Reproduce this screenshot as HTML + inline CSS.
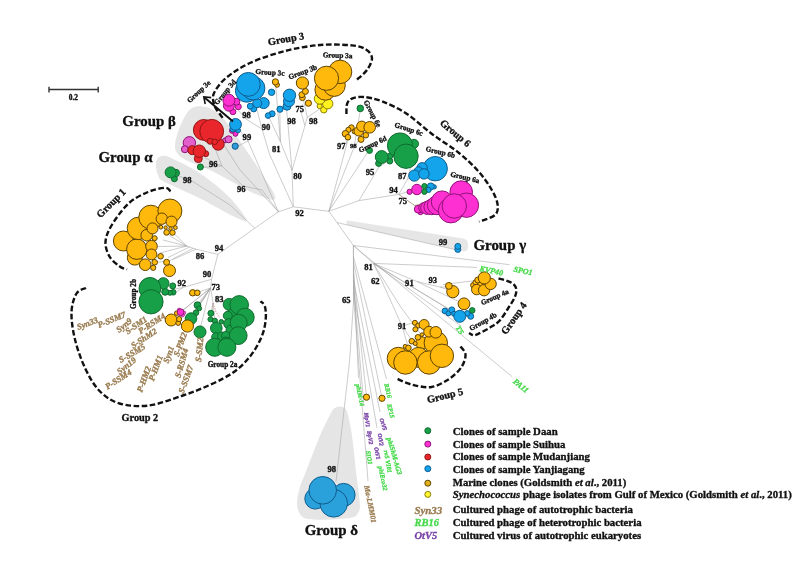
<!DOCTYPE html><html><head><meta charset="utf-8"><title>Phylogenetic tree</title>
<style>html,body{margin:0;padding:0;background:#fff}svg{display:block}text{font-family:"Liberation Serif",serif}</style></head><body>
<svg width="809" height="564" viewBox="0 0 809 564">
<rect width="809" height="564" fill="#fff"/>
<g opacity="0.999">
<path d="M275,199 C277.2,196.5 269.2,185.7 264,177 C258.8,168.3 250.0,155.8 244,147 C238.0,138.2 232.8,130.0 228,124 C223.2,118.0 219.2,113.9 215,111 C210.8,108.1 206.8,107.0 203,106.5 C199.2,106.0 195.2,106.1 192,108 C188.8,109.9 186.5,113.5 184,118 C181.5,122.5 178.5,130.2 177,135 C175.5,139.8 174.8,143.8 175,147 C175.2,150.2 176.2,151.8 178,154 C179.8,156.2 180.0,157.0 186,160 C192.0,163.0 203.2,166.7 214,172 C224.8,177.3 240.8,187.5 251,192 C261.2,196.5 272.8,201.5 275,199Z" fill="#e5e5e5" opacity="1"/>
<path d="M246.5,220 C245.7,216.7 236.5,204.3 229,196.7 C221.5,189.1 210.4,180.4 201.7,174.4 C193.0,168.4 183.0,163.8 176.8,160.7 C170.6,157.6 167.5,156.2 164.4,155.8 C161.3,155.4 159.4,156.6 158,158 C156.6,159.4 155.8,161.5 155.8,164.4 C155.8,167.3 156.8,172.7 158.2,175.6 C159.6,178.5 157.2,177.9 164.4,181.8 C171.7,185.7 190.1,193.4 201.7,199.2 C213.3,205.0 226.4,213.1 233.9,216.6 C241.4,220.1 247.3,223.3 246.5,220Z" fill="#e5e5e5" opacity="1"/>
<path d="M347.5,220.6 L463,238.4 Q468,239.3 468,244 L468,247 Q468,251.8 463,251.2 L347.5,224.8 Q344.5,222.6 347.5,220.6Z" fill="#e6e6e6"/>
<path d="M340,406.5 C341.7,406.6 343.7,407.1 345,408.5 C346.3,409.9 346.8,410.2 348,415 C349.2,419.8 350.8,427.2 352.2,437 C353.6,446.8 355.0,463.0 356.3,474 C357.6,485.0 359.4,496.7 359.8,503 C360.2,509.3 359.8,509.6 358.5,512 C357.2,514.4 356.8,516.2 352,517.5 C347.2,518.8 337.3,519.2 330,519.5 C322.7,519.8 313.0,519.9 308,519 C303.0,518.1 301.8,516.7 300,514 C298.2,511.3 297.0,507.5 297,503 C297.0,498.5 298.7,491.8 300,487 C301.3,482.2 301.8,482.3 305,474 C308.2,465.7 315.2,447.2 319.5,437 C323.8,426.8 328.4,417.8 331,413 C333.6,408.2 333.5,409.1 335,408 C336.5,406.9 338.3,406.4 340,406.5Z" fill="#e5e5e5" opacity="1"/>
<path d="M293.3,206.8 L328.8,211.3" fill="none" stroke="#a2a2a2" stroke-width="0.55"/>
<path d="M293.3,206.8 L292,170.3" fill="none" stroke="#a2a2a2" stroke-width="0.55"/>
<path d="M292,170.3 L307.3,117.4" fill="none" stroke="#a2a2a2" stroke-width="0.55"/>
<path d="M307.3,117.4 L303.5,100" fill="none" stroke="#a2a2a2" stroke-width="0.55"/>
<path d="M307.3,117.4 L321,108" fill="none" stroke="#a2a2a2" stroke-width="0.55"/>
<path d="M304.8,125.5 L301,112 L302.5,104" fill="none" stroke="#a2a2a2" stroke-width="0.55"/>
<path d="M292,170.3 L286.5,108" fill="none" stroke="#a2a2a2" stroke-width="0.55"/>
<path d="M292,170.3 L280.4,141.7 L269.5,118.5" fill="none" stroke="#a2a2a2" stroke-width="0.55"/>
<path d="M280.4,141.7 L279.8,111" fill="none" stroke="#a2a2a2" stroke-width="0.55"/>
<path d="M280.4,141.7 L275.8,87" fill="none" stroke="#a2a2a2" stroke-width="0.55"/>
<path d="M293.3,206.8 L269.7,154.7 L262,129" fill="none" stroke="#a2a2a2" stroke-width="0.55"/>
<path d="M262,129 L256,106" fill="none" stroke="#a2a2a2" stroke-width="0.55"/>
<path d="M262,129 L246,119 L238,110" fill="none" stroke="#a2a2a2" stroke-width="0.55"/>
<path d="M246,119 L250,108" fill="none" stroke="#a2a2a2" stroke-width="0.55"/>
<path d="M293.3,206.8 L278.4,211.8 L254.8,228.2 L217.8,254.4" fill="none" stroke="#a2a2a2" stroke-width="0.55"/>
<path d="M278.4,211.8 L248,141" fill="none" stroke="#a2a2a2" stroke-width="0.55"/>
<path d="M248,141 L238,128" fill="none" stroke="#a2a2a2" stroke-width="0.55"/>
<path d="M248,141 L237,146.5" fill="none" stroke="#a2a2a2" stroke-width="0.55"/>
<path d="M278.4,211.8 L262,190 L243,186 L222,166" fill="none" stroke="#a2a2a2" stroke-width="0.55"/>
<path d="M222,166 L214,146" fill="none" stroke="#a2a2a2" stroke-width="0.55"/>
<path d="M222,166 L202,167.5" fill="none" stroke="#a2a2a2" stroke-width="0.55"/>
<path d="M222,166 L205,158" fill="none" stroke="#a2a2a2" stroke-width="0.55"/>
<path d="M278.4,211.8 L240,170 L224,145" fill="none" stroke="#a2a2a2" stroke-width="0.55"/>
<path d="M254.8,228.2 L230,205 L192,181 L176,175" fill="none" stroke="#a2a2a2" stroke-width="0.55"/>
<path d="M217.8,254.4 L196,249.2 L186.7,246" fill="none" stroke="#a2a2a2" stroke-width="0.55"/>
<path d="M186.7,246 L174,233.5" fill="none" stroke="#a2a2a2" stroke-width="0.55"/>
<path d="M186.7,246 L168.5,235" fill="none" stroke="#a2a2a2" stroke-width="0.55"/>
<path d="M186.7,246 L163,240" fill="none" stroke="#a2a2a2" stroke-width="0.55"/>
<path d="M186.7,246 L158,246.5" fill="none" stroke="#a2a2a2" stroke-width="0.55"/>
<path d="M186.7,246 L160,253" fill="none" stroke="#a2a2a2" stroke-width="0.55"/>
<path d="M196,249.2 L172.5,259.8" fill="none" stroke="#a2a2a2" stroke-width="0.55"/>
<path d="M189.5,247 L168,257.5" fill="none" stroke="#a2a2a2" stroke-width="0.55"/>
<path d="M193,248.3 L170,260.5 L156,262.5" fill="none" stroke="#a2a2a2" stroke-width="0.55"/>
<path d="M217.8,254.4 L211.6,279.3 L210.6,288 L213,303" fill="none" stroke="#a2a2a2" stroke-width="0.55"/>
<path d="M211.6,279.3 L183,287.5 L172,289.5" fill="none" stroke="#a2a2a2" stroke-width="0.55"/>
<path d="M183,287.5 L176,292" fill="none" stroke="#a2a2a2" stroke-width="0.55"/>
<path d="M210.6,288 L196,293" fill="none" stroke="#a2a2a2" stroke-width="0.55"/>
<path d="M210.6,288 L182,311" fill="none" stroke="#a2a2a2" stroke-width="0.55"/>
<path d="M210.6,288 L173,318" fill="none" stroke="#a2a2a2" stroke-width="0.55"/>
<path d="M210.6,288 L186,323" fill="none" stroke="#a2a2a2" stroke-width="0.55"/>
<path d="M210.6,288 L192,316" fill="none" stroke="#a2a2a2" stroke-width="0.55"/>
<path d="M210.6,288 L200,329" fill="none" stroke="#a2a2a2" stroke-width="0.55"/>
<path d="M210.6,288 L197,305" fill="none" stroke="#a2a2a2" stroke-width="0.55"/>
<path d="M210.6,288 L196,311" fill="none" stroke="#a2a2a2" stroke-width="0.55"/>
<path d="M213,303 L211,313" fill="none" stroke="#a2a2a2" stroke-width="0.55"/>
<path d="M213,303 L211,319" fill="none" stroke="#a2a2a2" stroke-width="0.55"/>
<path d="M213,303 L215,321" fill="none" stroke="#a2a2a2" stroke-width="0.55"/>
<path d="M213,303 L216,312 L220,318" fill="none" stroke="#c55" stroke-width="0.6" stroke-dasharray="1.5,1.2"/>
<path d="M328.8,211.3 L346.6,144.8" fill="none" stroke="#a2a2a2" stroke-width="0.55"/>
<path d="M328.8,211.3 L354,147.3" fill="none" stroke="#a2a2a2" stroke-width="0.55"/>
<path d="M328.8,211.3 L367.7,152.3" fill="none" stroke="#a2a2a2" stroke-width="0.55"/>
<path d="M346.6,144.8 L346,135" fill="none" stroke="#a2a2a2" stroke-width="0.55"/>
<path d="M346.6,144.8 L350,131" fill="none" stroke="#a2a2a2" stroke-width="0.55"/>
<path d="M354,147.3 L360.3,110" fill="none" stroke="#a2a2a2" stroke-width="0.55"/>
<path d="M354,147.3 L362,135" fill="none" stroke="#a2a2a2" stroke-width="0.55"/>
<path d="M328.8,211.3 L359,200.6 L398.7,194.4" fill="none" stroke="#a2a2a2" stroke-width="0.55"/>
<path d="M359,200.6 L378.9,167 L382,160" fill="none" stroke="#a2a2a2" stroke-width="0.55"/>
<path d="M378.9,167 L392,158" fill="none" stroke="#a2a2a2" stroke-width="0.55"/>
<path d="M398.7,194.4 L407.4,179.5 L411,166" fill="none" stroke="#a2a2a2" stroke-width="0.55"/>
<path d="M407.4,179.5 L417,173" fill="none" stroke="#a2a2a2" stroke-width="0.55"/>
<path d="M398.7,194.4 L409,191.5" fill="none" stroke="#a2a2a2" stroke-width="0.55"/>
<path d="M398.7,194.4 L414.9,205.6 L420,209" fill="none" stroke="#7a5a3a" stroke-width="0.55"/>
<path d="M414.9,205.6 L424,203" fill="none" stroke="#7a5a3a" stroke-width="0.55"/>
<path d="M328.8,211.3 L337,222.6 L353.4,245.5" fill="none" stroke="#a2a2a2" stroke-width="0.55"/>
<path d="M337,222.6 L458,250.2" fill="none" stroke="#a2a2a2" stroke-width="0.55"/>
<path d="M353.4,245.5 L509.5,264.7" fill="none" stroke="#a2a2a2" stroke-width="0.55"/>
<path d="M353.4,245.5 L512,376.6" fill="none" stroke="#a2a2a2" stroke-width="0.55"/>
<path d="M353.4,245.5 L373.4,263.4" fill="none" stroke="#a2a2a2" stroke-width="0.55"/>
<path d="M373.4,263.4 L477,267.4" fill="none" stroke="#a2a2a2" stroke-width="0.55"/>
<path d="M373.4,263.4 L417,281.6 L440,287 L449,287" fill="none" stroke="#a2a2a2" stroke-width="0.55"/>
<path d="M440,287 L452,291" fill="none" stroke="#a2a2a2" stroke-width="0.55"/>
<path d="M443,284.5 L476,280.5" fill="none" stroke="#a2a2a2" stroke-width="0.55"/>
<path d="M373.4,263.4 L452,311" fill="none" stroke="#a2a2a2" stroke-width="0.55"/>
<path d="M373.4,263.4 L460,316" fill="none" stroke="#a2a2a2" stroke-width="0.55"/>
<path d="M417,281.6 L464,304" fill="none" stroke="#a2a2a2" stroke-width="0.55"/>
<path d="M373.4,263.4 L461,326" fill="none" stroke="#a2a2a2" stroke-width="0.55"/>
<path d="M373.4,263.4 L380,277 L402,326" fill="none" stroke="#a2a2a2" stroke-width="0.55"/>
<path d="M402,326 L414,322.5" fill="none" stroke="#a2a2a2" stroke-width="0.55"/>
<path d="M402,326 L408,346" fill="none" stroke="#a2a2a2" stroke-width="0.55"/>
<path d="M402,326 L412,340.5" fill="none" stroke="#a2a2a2" stroke-width="0.55"/>
<path d="M373.4,263.4 L400,306 L425,340" fill="none" stroke="#a2a2a2" stroke-width="0.55"/>
<path d="M353.4,245.5 L353.5,302 L349.6,360.7 L336,481.5" fill="none" stroke="#a2a2a2" stroke-width="0.55"/>
<path d="M353.5,274 L366.5,397" fill="none" stroke="#a2a2a2" stroke-width="0.55"/>
<path d="M353.5,262 L382,398" fill="none" stroke="#a2a2a2" stroke-width="0.55"/>
<path d="M353.5,268 L358.5,378" fill="none" stroke="#a2a2a2" stroke-width="0.55"/>
<path d="M353.5,286 L364,406" fill="none" stroke="#a2a2a2" stroke-width="0.55"/>
<path d="M353.5,280 L380,412" fill="none" stroke="#a2a2a2" stroke-width="0.55"/>
<path d="M353.5,257 L386.5,379" fill="none" stroke="#a2a2a2" stroke-width="0.55"/>
<path d="M353.5,292 L377,428" fill="none" stroke="#a2a2a2" stroke-width="0.55"/>
<path d="M353.4,245.5 L353.8,300 L368,481" fill="none" stroke="#a2a2a2" stroke-width="0.55"/>
<path d="M222.7,117.8 C221.7,116.4 218.1,112.1 216.5,109.5 C214.9,106.9 213.8,104.8 213.4,102 C213.0,99.2 212.2,96.5 214.3,92.5 C216.4,88.5 220.1,82.9 226,78 C231.9,73.1 240.2,67.5 250,63 C259.8,58.5 273.3,54.0 285,51 C296.7,48.0 308.8,45.9 320,45 C331.2,44.1 344.3,44.6 352,45.4 C359.7,46.1 362.7,47.4 366,49.5 C369.3,51.6 371.8,54.6 372,58 C372.2,61.4 369.5,66.4 367,70 C364.5,73.6 358.7,78.0 357,79.6" fill="none" stroke="#111" stroke-width="2.4" stroke-dasharray="5.6,2.5" stroke-linecap="butt"/>
<path d="M346.4,114 C346.5,112.2 346.2,106.1 347.2,103.5 C348.2,100.9 349.7,99.4 352.5,98.3 C355.3,97.2 359.1,96.5 364,97 C368.9,97.5 374.8,98.5 382,101.3 C389.2,104.1 398.7,108.5 407,114 C415.3,119.5 423.3,127.5 432,134 C440.7,140.5 451.2,146.7 459,153 C466.8,159.3 473.6,165.9 479,172 C484.4,178.1 488.4,184.2 491.5,189.5 C494.6,194.8 496.9,199.8 497.5,204 C498.1,208.2 498.1,212.1 495,215 C491.9,217.9 481.7,220.6 479,221.7" fill="none" stroke="#111" stroke-width="2.4" stroke-dasharray="5.6,2.5" stroke-linecap="butt"/>
<path d="M170.6,191.3 C169.7,190.7 168.8,187.7 165,187.8 C161.2,187.9 154.1,189.4 148,192 C141.9,194.6 134.6,197.9 128.5,203.5 C122.4,209.1 115.3,219.1 111.5,225.5 C107.7,231.9 105.8,236.8 105.5,242 C105.2,247.2 107.2,252.4 109.5,256.5 C111.8,260.6 116.6,264.1 119.5,266.3 C122.4,268.5 125.8,269.0 127,269.5" fill="none" stroke="#111" stroke-width="2.4" stroke-dasharray="5.6,2.5" stroke-linecap="butt"/>
<path d="M86,288 C84.4,288.9 78.9,289.5 76.5,293.5 C74.1,297.5 71.8,304.3 71.5,312 C71.2,319.7 72.7,330.0 75,339.5 C77.3,349.0 81.4,360.4 85.5,369 C89.6,377.6 93.9,385.2 99.6,391 C105.3,396.8 111.3,401.1 119.5,403.5 C127.7,405.9 138.7,406.8 149,405.5 C159.3,404.2 172.6,398.9 181.5,396 C190.4,393.1 195.4,391.1 202.4,388.2 C209.4,385.2 217.7,381.4 223.5,378.3 C229.3,375.2 233.0,372.9 237.1,369.6 C241.2,366.3 245.0,362.4 248.3,358.5 C251.6,354.6 254.5,350.4 257,346 C259.5,341.6 261.7,337.1 263.2,332.4 C264.7,327.7 265.5,322.4 265.8,318 C266.1,313.6 265.7,308.8 264.8,306 C263.9,303.2 261.2,302.1 260.5,301.3" fill="none" stroke="#111" stroke-width="2.4" stroke-dasharray="5.6,2.5" stroke-linecap="butt"/>
<path d="M498.5,278.4 C499.9,278.8 504.5,279.9 507,280.8 C509.5,281.7 511.9,282.6 513.5,284 C515.0,285.4 516.1,287.3 516.3,289.5 C516.5,291.7 516.0,294.4 514.7,297.4 C513.4,300.4 511.1,303.6 508.6,307.5 C506.1,311.4 502.7,317.4 499.5,320.8 C496.3,324.2 492.9,325.7 489.6,327.8 C486.3,329.9 482.2,331.9 479.6,333.2 C477.0,334.4 475.5,335.3 473.7,335.3 C471.9,335.3 469.8,333.4 469,333" fill="none" stroke="#111" stroke-width="2.4" stroke-dasharray="5.6,2.5" stroke-linecap="butt"/>
<path d="M460.5,346.5 C461.3,347.8 465.3,351.1 465.5,354.5 C465.7,357.9 464.2,362.9 461.5,367 C458.8,371.1 454.0,375.7 449,379 C444.0,382.3 437.8,386.1 431.5,387 C425.2,387.9 417.5,386.0 411.5,384.5 C405.5,383.0 398.2,379.1 395.5,378" fill="none" stroke="#111" stroke-width="2.4" stroke-dasharray="5.6,2.5" stroke-linecap="butt"/>
<circle cx="232.9" cy="111.7" r="3" fill="#FF30D2" stroke="#8E1277" stroke-width="1.0"/>
<circle cx="228.9" cy="105.7" r="5.5" fill="#FF30D2" stroke="#8E1277" stroke-width="1.0"/>
<circle cx="238.3" cy="106.7" r="3" fill="#FF30D2" stroke="#8E1277" stroke-width="1.0"/>
<circle cx="236.4" cy="101.7" r="3.5" fill="#FF30D2" stroke="#8E1277" stroke-width="1.0"/>
<circle cx="228.9" cy="100.2" r="6" fill="#FF30D2" stroke="#8E1277" stroke-width="1.0"/>
<circle cx="271.6" cy="92.3" r="3.2" fill="#14A4EC" stroke="#0F5C8C" stroke-width="1.0"/>
<circle cx="280" cy="109.2" r="3.1" fill="#14A4EC" stroke="#0F5C8C" stroke-width="1.0"/>
<circle cx="272.1" cy="113.8" r="3" fill="#14A4EC" stroke="#0F5C8C" stroke-width="1.0"/>
<circle cx="268.1" cy="115.6" r="2.8" fill="#14A4EC" stroke="#0F5C8C" stroke-width="1.0"/>
<circle cx="253.7" cy="108.9" r="3" fill="#14A4EC" stroke="#0F5C8C" stroke-width="1.0"/>
<circle cx="250.3" cy="106.2" r="3" fill="#14A4EC" stroke="#0F5C8C" stroke-width="1.0"/>
<circle cx="263.7" cy="103.1" r="5.5" fill="#14A4EC" stroke="#0F5C8C" stroke-width="1.0"/>
<circle cx="257.2" cy="103.2" r="4.5" fill="#14A4EC" stroke="#0F5C8C" stroke-width="1.0"/>
<circle cx="246.8" cy="90.8" r="11.4" fill="#14A4EC" stroke="#0F5C8C" stroke-width="1.0"/>
<circle cx="253.2" cy="88.3" r="11.7" fill="#14A4EC" stroke="#0F5C8C" stroke-width="1.0"/>
<circle cx="248.3" cy="84.4" r="11.9" fill="#14A4EC" stroke="#0F5C8C" stroke-width="1.0"/>
<circle cx="287" cy="106.2" r="4" fill="#14A4EC" stroke="#0F5C8C" stroke-width="1.0"/>
<circle cx="289" cy="101.2" r="5.5" fill="#14A4EC" stroke="#0F5C8C" stroke-width="1.0"/>
<circle cx="289.5" cy="95.3" r="6.2" fill="#14A4EC" stroke="#0F5C8C" stroke-width="1.0"/>
<circle cx="277.1" cy="84.9" r="2.4" fill="#FFB80C" stroke="#5E4300" stroke-width="1.0"/>
<circle cx="275.4" cy="81.9" r="3.1" fill="#FFB80C" stroke="#5E4300" stroke-width="1.0"/>
<circle cx="308.4" cy="103.2" r="3.1" fill="#FFB80C" stroke="#5E4300" stroke-width="1.0"/>
<circle cx="302.4" cy="97.7" r="2.9" fill="#FFB80C" stroke="#5E4300" stroke-width="1.0"/>
<circle cx="301.9" cy="94.7" r="3" fill="#FFB80C" stroke="#5E4300" stroke-width="1.0"/>
<circle cx="305.4" cy="91.4" r="3" fill="#FFB80C" stroke="#5E4300" stroke-width="1.0"/>
<circle cx="302.4" cy="83" r="6.1" fill="#FFB80C" stroke="#5E4300" stroke-width="1.0"/>
<circle cx="323.8" cy="109.8" r="3.2" fill="#FFF21E" stroke="#8A7F00" stroke-width="1.0"/>
<circle cx="319.6" cy="106.1" r="2.5" fill="#FFF21E" stroke="#8A7F00" stroke-width="1.0"/>
<circle cx="327.7" cy="103.7" r="5.2" fill="#FFF21E" stroke="#8A7F00" stroke-width="1.0"/>
<circle cx="319.8" cy="98.7" r="5.5" fill="#FFF21E" stroke="#8A7F00" stroke-width="1.0"/>
<circle cx="325.3" cy="89.8" r="10.4" fill="#FFB80C" stroke="#5E4300" stroke-width="1.0"/>
<circle cx="334.2" cy="85.3" r="11.1" fill="#FFB80C" stroke="#5E4300" stroke-width="1.0"/>
<circle cx="340.1" cy="71.9" r="11.7" fill="#FFB80C" stroke="#5E4300" stroke-width="1.0"/>
<circle cx="326.5" cy="78.3" r="12.1" fill="#FFB80C" stroke="#5E4300" stroke-width="1.0"/>
<circle cx="235.2" cy="146.2" r="3.1" fill="#2C9BD8" stroke="#0F5C8C" stroke-width="1.0"/>
<circle cx="235.5" cy="133.8" r="2.5" fill="#FF30D2" stroke="#8E1277" stroke-width="1.0"/>
<circle cx="232" cy="130.8" r="2.5" fill="#FF30D2" stroke="#8E1277" stroke-width="1.0"/>
<circle cx="238" cy="130.3" r="2.5" fill="#14A4EC" stroke="#0F5C8C" stroke-width="1.0"/>
<circle cx="233.1" cy="128.8" r="3.2" fill="#14A4EC" stroke="#0F5C8C" stroke-width="1.0"/>
<circle cx="235.5" cy="124.4" r="5.9" fill="#14A4EC" stroke="#0F5C8C" stroke-width="1.0"/>
<circle cx="200.4" cy="167" r="3" fill="#18A049" stroke="#0F6A2E" stroke-width="1.0"/>
<circle cx="189.4" cy="142.8" r="6.2" fill="#E35FCC" stroke="#8E1277" stroke-width="1.0"/>
<circle cx="184.9" cy="149.2" r="3.5" fill="#E35FCC" stroke="#8E1277" stroke-width="1.0"/>
<circle cx="225.1" cy="140.3" r="2.5" fill="#E35FCC" stroke="#8E1277" stroke-width="1.0"/>
<circle cx="228.6" cy="139.3" r="3.5" fill="#E35FCC" stroke="#8E1277" stroke-width="1.0"/>
<circle cx="198.3" cy="158.6" r="4" fill="#E8262B" stroke="#8F1414" stroke-width="1.0"/>
<circle cx="192.3" cy="150.2" r="4.5" fill="#E8262B" stroke="#8F1414" stroke-width="1.0"/>
<circle cx="205.7" cy="153.7" r="3" fill="#E8262B" stroke="#8F1414" stroke-width="1.0"/>
<circle cx="199.3" cy="151.2" r="6.2" fill="#E8262B" stroke="#8F1414" stroke-width="1.0"/>
<circle cx="218.2" cy="144.2" r="6" fill="#E8262B" stroke="#8F1414" stroke-width="1.0"/>
<circle cx="203.8" cy="129.9" r="10.4" fill="#E8262B" stroke="#8F1414" stroke-width="1.0"/>
<circle cx="211.7" cy="131.3" r="11.9" fill="#E8262B" stroke="#8F1414" stroke-width="1.0"/>
<circle cx="210.2" cy="141.3" r="3" fill="#E8262B" stroke="#8F1414" stroke-width="1.0"/>
<circle cx="214.7" cy="141.8" r="2.8" fill="#E8262B" stroke="#8F1414" stroke-width="1.0"/>
<circle cx="174.4" cy="178.8" r="3" fill="#18A049" stroke="#0F6A2E" stroke-width="1.0"/>
<circle cx="175.8" cy="173" r="3.7" fill="#18A049" stroke="#0F6A2E" stroke-width="1.0"/>
<circle cx="170.6" cy="172.4" r="5.5" fill="#18A049" stroke="#0F6A2E" stroke-width="1.0"/>
<circle cx="123.4" cy="241" r="10" fill="#FFB80C" stroke="#5E4300" stroke-width="1.0"/>
<circle cx="134.8" cy="257.6" r="7.5" fill="#FFB80C" stroke="#5E4300" stroke-width="1.0"/>
<circle cx="136.8" cy="249.2" r="10.2" fill="#FFB80C" stroke="#5E4300" stroke-width="1.0"/>
<circle cx="138.4" cy="228.4" r="11.2" fill="#FFB80C" stroke="#5E4300" stroke-width="1.0"/>
<circle cx="150.8" cy="217.2" r="12" fill="#FFB80C" stroke="#5E4300" stroke-width="1.0"/>
<circle cx="169.9" cy="211" r="12" fill="#FFB80C" stroke="#5E4300" stroke-width="1.0"/>
<circle cx="146.7" cy="235.2" r="5.8" fill="#FFB80C" stroke="#5E4300" stroke-width="1.0"/>
<circle cx="152.5" cy="228.4" r="5.5" fill="#FFB80C" stroke="#5E4300" stroke-width="1.0"/>
<circle cx="161.8" cy="218.7" r="5.7" fill="#FFB80C" stroke="#5E4300" stroke-width="1.0"/>
<circle cx="171.5" cy="221.6" r="5.5" fill="#FFB80C" stroke="#5E4300" stroke-width="1.0"/>
<circle cx="151.5" cy="246.2" r="5.8" fill="#FFB80C" stroke="#5E4300" stroke-width="1.0"/>
<circle cx="151.5" cy="254.4" r="5.4" fill="#FFB80C" stroke="#5E4300" stroke-width="1.0"/>
<circle cx="145.2" cy="264.7" r="5.8" fill="#FFB80C" stroke="#5E4300" stroke-width="1.0"/>
<circle cx="169.5" cy="270.6" r="6" fill="#FFB80C" stroke="#5E4300" stroke-width="1.0"/>
<circle cx="166.6" cy="232.4" r="2.8" fill="#FFB80C" stroke="#5E4300" stroke-width="1.0"/>
<circle cx="172.5" cy="232.6" r="2.7" fill="#FFB80C" stroke="#5E4300" stroke-width="1.0"/>
<circle cx="160.9" cy="227.2" r="1.9" fill="#FFB80C" stroke="#5E4300" stroke-width="1.0"/>
<circle cx="165.6" cy="227.5" r="1.7" fill="#FFB80C" stroke="#5E4300" stroke-width="1.0"/>
<circle cx="170.5" cy="228.6" r="1.7" fill="#FFB80C" stroke="#5E4300" stroke-width="1.0"/>
<circle cx="175.4" cy="227.6" r="1.9" fill="#FFB80C" stroke="#5E4300" stroke-width="1.0"/>
<circle cx="154.7" cy="238.2" r="2.5" fill="#FFB80C" stroke="#5E4300" stroke-width="1.0"/>
<circle cx="160.6" cy="256.3" r="2.8" fill="#FFB80C" stroke="#5E4300" stroke-width="1.0"/>
<circle cx="154.7" cy="262.3" r="2.8" fill="#FFB80C" stroke="#5E4300" stroke-width="1.0"/>
<circle cx="166.6" cy="262.3" r="3" fill="#FFB80C" stroke="#5E4300" stroke-width="1.0"/>
<circle cx="153.2" cy="267.8" r="2.6" fill="#FFB80C" stroke="#5E4300" stroke-width="1.0"/>
<circle cx="172.7" cy="285.9" r="3" fill="#18A049" stroke="#0F6A2E" stroke-width="1.0"/>
<circle cx="173.2" cy="292.3" r="2.8" fill="#18A049" stroke="#0F6A2E" stroke-width="1.0"/>
<circle cx="170" cy="292.8" r="2.5" fill="#18A049" stroke="#0F6A2E" stroke-width="1.0"/>
<circle cx="165.2" cy="291.8" r="3.5" fill="#18A049" stroke="#0F6A2E" stroke-width="1.0"/>
<circle cx="163.3" cy="283.4" r="5.7" fill="#18A049" stroke="#0F6A2E" stroke-width="1.0"/>
<circle cx="149.9" cy="288.4" r="10.9" fill="#18A049" stroke="#0F6A2E" stroke-width="1.0"/>
<circle cx="151" cy="301.8" r="12.1" fill="#18A049" stroke="#0F6A2E" stroke-width="1.0"/>
<circle cx="192.7" cy="292.8" r="3.2" fill="#FFB80C" stroke="#5E4300" stroke-width="1.0"/>
<circle cx="197.3" cy="292.8" r="2.8" fill="#FFB80C" stroke="#5E4300" stroke-width="1.0"/>
<circle cx="176.7" cy="313.2" r="2.3" fill="#FFB80C" stroke="#5E4300" stroke-width="1.0"/>
<circle cx="171.2" cy="320" r="6" fill="#FFB80C" stroke="#5E4300" stroke-width="1.0"/>
<circle cx="178.2" cy="323" r="2.4" fill="#FFB80C" stroke="#5E4300" stroke-width="1.0"/>
<circle cx="179.1" cy="319.1" r="2.6" fill="#FFB80C" stroke="#5E4300" stroke-width="1.0"/>
<circle cx="197.5" cy="305.2" r="3.4" fill="#18A049" stroke="#0F6A2E" stroke-width="1.0"/>
<circle cx="199.2" cy="308.4" r="2.4" fill="#18A049" stroke="#0F6A2E" stroke-width="1.0"/>
<circle cx="196" cy="312.7" r="2.8" fill="#18A049" stroke="#0F6A2E" stroke-width="1.0"/>
<circle cx="191" cy="318.6" r="5.8" fill="#18A049" stroke="#0F6A2E" stroke-width="1.0"/>
<circle cx="187.4" cy="326" r="6.1" fill="#FFB80C" stroke="#5E4300" stroke-width="1.0"/>
<circle cx="200" cy="332" r="6" fill="#18A049" stroke="#0F6A2E" stroke-width="1.0"/>
<circle cx="179.1" cy="309.9" r="1.8" fill="#F266D6" stroke="#8E1277" stroke-width="0.6"/>
<circle cx="184" cy="312.8" r="1.8" fill="#F266D6" stroke="#8E1277" stroke-width="0.6"/>
<circle cx="182.6" cy="315.2" r="1.8" fill="#F266D6" stroke="#8E1277" stroke-width="0.6"/>
<circle cx="180.6" cy="312.2" r="3.4" fill="#FF30D2" stroke="#8E1277" stroke-width="1.0"/>
<circle cx="210.9" cy="313.3" r="3" fill="#18A049" stroke="#0F6A2E" stroke-width="1.0"/>
<circle cx="210.4" cy="319.3" r="2.5" fill="#18A049" stroke="#0F6A2E" stroke-width="1.0"/>
<circle cx="214.9" cy="320.8" r="2.6" fill="#18A049" stroke="#0F6A2E" stroke-width="1.0"/>
<circle cx="221.3" cy="321.8" r="2.3" fill="#18A049" stroke="#0F6A2E" stroke-width="1.0"/>
<circle cx="229.2" cy="304.4" r="6" fill="#18A049" stroke="#0F6A2E" stroke-width="1.0"/>
<circle cx="232.5" cy="313.5" r="5" fill="#18A049" stroke="#0F6A2E" stroke-width="1.0"/>
<circle cx="227.8" cy="315.8" r="4.5" fill="#18A049" stroke="#0F6A2E" stroke-width="1.0"/>
<circle cx="228.7" cy="323.7" r="5" fill="#18A049" stroke="#0F6A2E" stroke-width="1.0"/>
<circle cx="231" cy="330" r="5" fill="#18A049" stroke="#0F6A2E" stroke-width="1.0"/>
<circle cx="216.3" cy="328.2" r="5.8" fill="#18A049" stroke="#0F6A2E" stroke-width="1.0"/>
<circle cx="216" cy="337" r="4.3" fill="#18A049" stroke="#0F6A2E" stroke-width="1.0"/>
<circle cx="222" cy="336.5" r="4.5" fill="#18A049" stroke="#0F6A2E" stroke-width="1.0"/>
<circle cx="225.8" cy="335.7" r="4.2" fill="#18A049" stroke="#0F6A2E" stroke-width="1.0"/>
<circle cx="226" cy="342" r="5" fill="#18A049" stroke="#0F6A2E" stroke-width="1.0"/>
<circle cx="239.2" cy="304.9" r="9.3" fill="#18A049" stroke="#0F6A2E" stroke-width="1.0"/>
<circle cx="245.1" cy="317.3" r="9.1" fill="#18A049" stroke="#0F6A2E" stroke-width="1.0"/>
<circle cx="238.7" cy="322.8" r="8.5" fill="#18A049" stroke="#0F6A2E" stroke-width="1.0"/>
<circle cx="238.2" cy="335.6" r="8.9" fill="#18A049" stroke="#0F6A2E" stroke-width="1.0"/>
<circle cx="214.7" cy="347.3" r="9" fill="#18A049" stroke="#0F6A2E" stroke-width="1.0"/>
<circle cx="226.9" cy="347.3" r="9" fill="#18A049" stroke="#0F6A2E" stroke-width="1.0"/>
<circle cx="360.3" cy="108.4" r="3.3" fill="#18A049" stroke="#0F6A2E" stroke-width="1.0"/>
<circle cx="351.4" cy="127.6" r="2.8" fill="#FFB80C" stroke="#5E4300" stroke-width="1.0"/>
<circle cx="348.4" cy="129.9" r="2.6" fill="#FFB80C" stroke="#5E4300" stroke-width="1.0"/>
<circle cx="345.4" cy="133.7" r="3.2" fill="#FFB80C" stroke="#5E4300" stroke-width="1.0"/>
<circle cx="347.9" cy="137.2" r="2.8" fill="#FFB80C" stroke="#5E4300" stroke-width="1.0"/>
<circle cx="354.5" cy="131.5" r="2.4" fill="#FFB80C" stroke="#5E4300" stroke-width="1.0"/>
<circle cx="361" cy="139.4" r="3" fill="#FFB80C" stroke="#5E4300" stroke-width="1.0"/>
<circle cx="365.8" cy="135.2" r="2.8" fill="#FFB80C" stroke="#5E4300" stroke-width="1.0"/>
<circle cx="358.8" cy="131.2" r="4.8" fill="#FFB80C" stroke="#5E4300" stroke-width="1.0"/>
<circle cx="361.8" cy="126.3" r="5.2" fill="#FFB80C" stroke="#5E4300" stroke-width="1.0"/>
<circle cx="369.7" cy="127.3" r="5.8" fill="#FFB80C" stroke="#5E4300" stroke-width="1.0"/>
<circle cx="369.5" cy="150.4" r="3" fill="#18A049" stroke="#0F6A2E" stroke-width="1.0"/>
<circle cx="378.6" cy="163.4" r="3" fill="#18A049" stroke="#0F6A2E" stroke-width="1.0"/>
<circle cx="389.8" cy="161" r="3" fill="#18A049" stroke="#0F6A2E" stroke-width="1.0"/>
<circle cx="389.8" cy="156" r="3" fill="#18A049" stroke="#0F6A2E" stroke-width="1.0"/>
<circle cx="381.7" cy="157" r="6.4" fill="#18A049" stroke="#0F6A2E" stroke-width="1.0"/>
<circle cx="414" cy="143.8" r="4.5" fill="#18A049" stroke="#0F6A2E" stroke-width="1.0"/>
<circle cx="400" cy="145.5" r="12.6" fill="#18A049" stroke="#0F6A2E" stroke-width="1.0"/>
<circle cx="406" cy="156.2" r="12.2" fill="#18A049" stroke="#0F6A2E" stroke-width="1.0"/>
<circle cx="435.2" cy="168.7" r="12.2" fill="#14A4EC" stroke="#0F5C8C" stroke-width="1.0"/>
<circle cx="422.1" cy="167.8" r="5.2" fill="#14A4EC" stroke="#0F5C8C" stroke-width="1.0"/>
<circle cx="418.5" cy="171" r="4.3" fill="#14A4EC" stroke="#0F5C8C" stroke-width="1.0"/>
<circle cx="414.3" cy="175.6" r="5.6" fill="#14A4EC" stroke="#0F5C8C" stroke-width="1.0"/>
<circle cx="423.9" cy="173.9" r="5.2" fill="#14A4EC" stroke="#0F5C8C" stroke-width="1.0"/>
<circle cx="409.6" cy="191.8" r="2.6" fill="#FF30D2" stroke="#8E1277" stroke-width="1.0"/>
<circle cx="416.9" cy="189.5" r="5.2" fill="#FF30D2" stroke="#8E1277" stroke-width="1.0"/>
<circle cx="434.3" cy="186.9" r="2.1" fill="#14A4EC" stroke="#0F5C8C" stroke-width="1.0"/>
<circle cx="430.8" cy="186.4" r="3.5" fill="#14A4EC" stroke="#0F5C8C" stroke-width="1.0"/>
<circle cx="428.6" cy="189.9" r="2.6" fill="#14A4EC" stroke="#0F5C8C" stroke-width="1.0"/>
<circle cx="424.4" cy="186.1" r="2.6" fill="#18A049" stroke="#0F6A2E" stroke-width="1.0"/>
<circle cx="424.4" cy="191.8" r="2.6" fill="#18A049" stroke="#0F6A2E" stroke-width="1.0"/>
<circle cx="420.4" cy="212.1" r="2.6" fill="#FF30D2" stroke="#8E1277" stroke-width="1.0"/>
<circle cx="418.1" cy="209.2" r="3.8" fill="#FF30D2" stroke="#8E1277" stroke-width="1.0"/>
<circle cx="423.9" cy="207.8" r="5.2" fill="#FF30D2" stroke="#8E1277" stroke-width="1.0"/>
<circle cx="427.3" cy="207.8" r="6.6" fill="#FF30D2" stroke="#8E1277" stroke-width="1.0"/>
<circle cx="431.7" cy="206.9" r="7.8" fill="#FF30D2" stroke="#8E1277" stroke-width="1.0"/>
<circle cx="436.9" cy="205.2" r="9.5" fill="#FF30D2" stroke="#8E1277" stroke-width="1.0"/>
<circle cx="442.1" cy="201.7" r="10.8" fill="#FF30D2" stroke="#8E1277" stroke-width="1.0"/>
<circle cx="461.2" cy="192.1" r="11.3" fill="#FF30D2" stroke="#8E1277" stroke-width="1.0"/>
<circle cx="466.4" cy="205.2" r="12.2" fill="#FF30D2" stroke="#8E1277" stroke-width="1.0"/>
<circle cx="450.8" cy="210.4" r="12.5" fill="#FF30D2" stroke="#8E1277" stroke-width="1.0"/>
<circle cx="454.3" cy="206" r="12.2" fill="#FF30D2" stroke="#8E1277" stroke-width="1.0"/>
<circle cx="457.8" cy="249.4" r="3" fill="#14A4EC" stroke="#0F5C8C" stroke-width="1.0"/>
<circle cx="457.8" cy="246.4" r="3" fill="#14A4EC" stroke="#0F5C8C" stroke-width="1.0"/>
<circle cx="452.8" cy="291.7" r="6.1" fill="#FFB80C" stroke="#5E4300" stroke-width="1.0"/>
<circle cx="448.9" cy="285.9" r="3.4" fill="#FFB80C" stroke="#5E4300" stroke-width="1.0"/>
<circle cx="464" cy="303.8" r="5.9" fill="#FFB80C" stroke="#5E4300" stroke-width="1.0"/>
<circle cx="480" cy="283.5" r="4" fill="#FFB80C" stroke="#5E4300" stroke-width="1.0"/>
<circle cx="473.4" cy="285.2" r="2.8" fill="#FFB80C" stroke="#5E4300" stroke-width="1.0"/>
<circle cx="475.5" cy="282.4" r="2.6" fill="#FFB80C" stroke="#5E4300" stroke-width="1.0"/>
<circle cx="477.8" cy="280" r="3" fill="#FFB80C" stroke="#5E4300" stroke-width="1.0"/>
<circle cx="476.7" cy="289.6" r="5.2" fill="#FFB80C" stroke="#5E4300" stroke-width="1.0"/>
<circle cx="484.1" cy="290.2" r="5.7" fill="#FFB80C" stroke="#5E4300" stroke-width="1.0"/>
<circle cx="490.6" cy="283.9" r="5.7" fill="#FFB80C" stroke="#5E4300" stroke-width="1.0"/>
<circle cx="484.3" cy="277.9" r="6.1" fill="#FFB80C" stroke="#5E4300" stroke-width="1.0"/>
<circle cx="472.2" cy="310.4" r="2.8" fill="#18A049" stroke="#0F6A2E" stroke-width="1.0"/>
<circle cx="444.9" cy="310.9" r="2.8" fill="#14A4EC" stroke="#0F5C8C" stroke-width="1.0"/>
<circle cx="448.4" cy="313.4" r="2.5" fill="#14A4EC" stroke="#0F5C8C" stroke-width="1.0"/>
<circle cx="451.8" cy="309.9" r="3" fill="#14A4EC" stroke="#0F5C8C" stroke-width="1.0"/>
<circle cx="454" cy="313.8" r="2.5" fill="#14A4EC" stroke="#0F5C8C" stroke-width="1.0"/>
<circle cx="470.7" cy="316.3" r="3" fill="#14A4EC" stroke="#0F5C8C" stroke-width="1.0"/>
<circle cx="467.2" cy="313.4" r="2.8" fill="#14A4EC" stroke="#0F5C8C" stroke-width="1.0"/>
<circle cx="459.8" cy="316.3" r="6" fill="#14A4EC" stroke="#0F5C8C" stroke-width="1.0"/>
<circle cx="421.8" cy="342.9" r="6.1" fill="#FFB80C" stroke="#5E4300" stroke-width="1.0"/>
<circle cx="435.8" cy="342.9" r="11.7" fill="#FFB80C" stroke="#5E4300" stroke-width="1.0"/>
<circle cx="414.9" cy="322.8" r="2.5" fill="#FFB80C" stroke="#5E4300" stroke-width="1.0"/>
<circle cx="418.2" cy="325.6" r="2.5" fill="#FFB80C" stroke="#5E4300" stroke-width="1.0"/>
<circle cx="415.4" cy="329.3" r="2.5" fill="#FFB80C" stroke="#5E4300" stroke-width="1.0"/>
<circle cx="424.1" cy="324.5" r="5" fill="#FFB80C" stroke="#5E4300" stroke-width="1.0"/>
<circle cx="429.1" cy="331.7" r="5.4" fill="#FFB80C" stroke="#5E4300" stroke-width="1.0"/>
<circle cx="435.8" cy="332.3" r="5.8" fill="#FFB80C" stroke="#5E4300" stroke-width="1.0"/>
<circle cx="421.9" cy="334.6" r="1.8" fill="#FFB80C" stroke="#5E4300" stroke-width="1.0"/>
<circle cx="417.9" cy="337.3" r="2.8" fill="#FFB80C" stroke="#5E4300" stroke-width="1.0"/>
<circle cx="411.8" cy="341.2" r="2.8" fill="#FFB80C" stroke="#5E4300" stroke-width="1.0"/>
<circle cx="415.2" cy="343.5" r="2" fill="#FFB80C" stroke="#5E4300" stroke-width="1.0"/>
<circle cx="405.2" cy="346.4" r="2" fill="#FFB80C" stroke="#5E4300" stroke-width="1.0"/>
<circle cx="408.4" cy="347.9" r="2.8" fill="#FFB80C" stroke="#5E4300" stroke-width="1.0"/>
<circle cx="398.4" cy="358.5" r="11.2" fill="#FFB80C" stroke="#5E4300" stroke-width="1.0"/>
<circle cx="418.5" cy="357.4" r="10" fill="#FFB80C" stroke="#5E4300" stroke-width="1.0"/>
<circle cx="405.4" cy="362.5" r="11.7" fill="#FFB80C" stroke="#5E4300" stroke-width="1.0"/>
<circle cx="429.1" cy="362.5" r="11.7" fill="#FFB80C" stroke="#5E4300" stroke-width="1.0"/>
<circle cx="441.9" cy="355.8" r="11.7" fill="#FFB80C" stroke="#5E4300" stroke-width="1.0"/>
<circle cx="366.5" cy="397.2" r="3.1" fill="#FFB80C" stroke="#5E4300" stroke-width="1.0"/>
<circle cx="382" cy="398.3" r="3.1" fill="#FFB80C" stroke="#5E4300" stroke-width="1.0"/>
<circle cx="315.2" cy="498.7" r="10.4" fill="#2BA1DB" stroke="#0F5C8C" stroke-width="1.0"/>
<circle cx="343.6" cy="494.9" r="11.5" fill="#2BA1DB" stroke="#0F5C8C" stroke-width="1.0"/>
<circle cx="333.7" cy="503.3" r="13.8" fill="#2BA1DB" stroke="#0F5C8C" stroke-width="1.0"/>
<circle cx="322.7" cy="490.3" r="13.8" fill="#2BA1DB" stroke="#0F5C8C" stroke-width="1.0"/>
<path d="M233,121.5 L204.5,97.5" stroke="#111" stroke-width="1.9" fill="none"/>
<path d="M205.2,104 L203.8,96.8 L211.2,97.6" stroke="#111" stroke-width="1.6" fill="none"/>
<path d="M49,89.5 H98.2 M49,86.7 V92.6 M98.2,86.7 V92.6" stroke="#333" stroke-width="1.4" fill="none"/>
<text x="73.4" y="97" font-size="7.4" fill="#111" text-anchor="middle" dominant-baseline="central" font-weight="bold" stroke="#111" stroke-width="0.34">0.2</text>
<text x="246.6" y="115.3" font-size="8.6" fill="#111" text-anchor="middle" dominant-baseline="central" font-weight="bold" stroke="#111" stroke-width="0.34">98</text>
<text x="246.9" y="136.6" font-size="8.6" fill="#111" text-anchor="middle" dominant-baseline="central" font-weight="bold" stroke="#111" stroke-width="0.34">99</text>
<text x="266" y="127.3" font-size="8.6" fill="#111" text-anchor="middle" dominant-baseline="central" font-weight="bold" stroke="#111" stroke-width="0.34">90</text>
<text x="276.2" y="149.2" font-size="8.6" fill="#111" text-anchor="middle" dominant-baseline="central" font-weight="bold" stroke="#111" stroke-width="0.34">81</text>
<text x="291.5" y="120.5" font-size="8.6" fill="#111" text-anchor="middle" dominant-baseline="central" font-weight="bold" stroke="#111" stroke-width="0.34">98</text>
<text x="299.7" y="109.3" font-size="8.6" fill="#111" text-anchor="middle" dominant-baseline="central" font-weight="bold" stroke="#111" stroke-width="0.34">75</text>
<text x="313.3" y="120.5" font-size="8.6" fill="#111" text-anchor="middle" dominant-baseline="central" font-weight="bold" stroke="#111" stroke-width="0.34">98</text>
<text x="341.2" y="146.2" font-size="8.6" fill="#111" text-anchor="middle" dominant-baseline="central" font-weight="bold" stroke="#111" stroke-width="0.34">97</text>
<text x="370.1" y="172" font-size="8.6" fill="#111" text-anchor="middle" dominant-baseline="central" font-weight="bold" stroke="#111" stroke-width="0.34">95</text>
<text x="402.3" y="175.8" font-size="8.6" fill="#111" text-anchor="middle" dominant-baseline="central" font-weight="bold" stroke="#111" stroke-width="0.34">87</text>
<text x="393.6" y="190.4" font-size="8.6" fill="#111" text-anchor="middle" dominant-baseline="central" font-weight="bold" stroke="#111" stroke-width="0.34">94</text>
<text x="402.8" y="200.6" font-size="8.6" fill="#111" text-anchor="middle" dominant-baseline="central" font-weight="bold" stroke="#111" stroke-width="0.34">75</text>
<text x="443" y="241.6" font-size="8.6" fill="#111" text-anchor="middle" dominant-baseline="central" font-weight="bold" stroke="#111" stroke-width="0.34">99</text>
<text x="297.5" y="175.8" font-size="8.6" fill="#111" text-anchor="middle" dominant-baseline="central" font-weight="bold" stroke="#111" stroke-width="0.34">80</text>
<text x="299.5" y="213" font-size="8.6" fill="#111" text-anchor="middle" dominant-baseline="central" font-weight="bold" stroke="#111" stroke-width="0.34">92</text>
<text x="241.3" y="188.8" font-size="8.6" fill="#111" text-anchor="middle" dominant-baseline="central" font-weight="bold" stroke="#111" stroke-width="0.34">96</text>
<text x="213.3" y="163.7" font-size="8.6" fill="#111" text-anchor="middle" dominant-baseline="central" font-weight="bold" stroke="#111" stroke-width="0.34">96</text>
<text x="187.3" y="179.8" font-size="8.6" fill="#111" text-anchor="middle" dominant-baseline="central" font-weight="bold" stroke="#111" stroke-width="0.34">98</text>
<text x="219" y="247.5" font-size="8.6" fill="#111" text-anchor="middle" dominant-baseline="central" font-weight="bold" stroke="#111" stroke-width="0.34">94</text>
<text x="200" y="255.7" font-size="8.6" fill="#111" text-anchor="middle" dominant-baseline="central" font-weight="bold" stroke="#111" stroke-width="0.34">86</text>
<text x="207" y="273.8" font-size="8.6" fill="#111" text-anchor="middle" dominant-baseline="central" font-weight="bold" stroke="#111" stroke-width="0.34">90</text>
<text x="181.8" y="283.2" font-size="8.6" fill="#111" text-anchor="middle" dominant-baseline="central" font-weight="bold" stroke="#111" stroke-width="0.34">92</text>
<text x="215.8" y="286.7" font-size="8.6" fill="#111" text-anchor="middle" dominant-baseline="central" font-weight="bold" stroke="#111" stroke-width="0.34">73</text>
<text x="219.2" y="298.5" font-size="8.6" fill="#111" text-anchor="middle" dominant-baseline="central" font-weight="bold" stroke="#111" stroke-width="0.34">83</text>
<text x="368.5" y="266.5" font-size="8.6" fill="#111" text-anchor="middle" dominant-baseline="central" font-weight="bold" stroke="#111" stroke-width="0.34">81</text>
<text x="375.2" y="280.9" font-size="8.6" fill="#111" text-anchor="middle" dominant-baseline="central" font-weight="bold" stroke="#111" stroke-width="0.34">62</text>
<text x="409.4" y="282.9" font-size="8.6" fill="#111" text-anchor="middle" dominant-baseline="central" font-weight="bold" stroke="#111" stroke-width="0.34">91</text>
<text x="432.8" y="279.8" font-size="8.6" fill="#111" text-anchor="middle" dominant-baseline="central" font-weight="bold" stroke="#111" stroke-width="0.34">93</text>
<text x="346.2" y="300.2" font-size="8.6" fill="#111" text-anchor="middle" dominant-baseline="central" font-weight="bold" stroke="#111" stroke-width="0.34">65</text>
<text x="402" y="325.5" font-size="8.6" fill="#111" text-anchor="middle" dominant-baseline="central" font-weight="bold" stroke="#111" stroke-width="0.34">91</text>
<text x="331.8" y="468.5" font-size="8.6" fill="#111" text-anchor="middle" dominant-baseline="central" font-weight="bold" stroke="#111" stroke-width="0.34">98</text>
<text x="353.3" y="145" font-size="6.8" fill="#111" text-anchor="middle" dominant-baseline="central" font-weight="bold" stroke="#111" stroke-width="0.34">98</text>
<text x="286" y="38.8" font-size="10.3" fill="#111" text-anchor="middle" dominant-baseline="central" font-weight="bold" transform="rotate(-10 286 38.8)" stroke="#111" stroke-width="0.34">Group 3</text>
<text x="455.5" y="133" font-size="10.3" fill="#111" text-anchor="middle" dominant-baseline="central" font-weight="bold" transform="rotate(40 455.5 133)" stroke="#111" stroke-width="0.34">Group 6</text>
<text x="111" y="203" font-size="10.3" fill="#111" text-anchor="middle" dominant-baseline="central" font-weight="bold" transform="rotate(-45 111 203)" stroke="#111" stroke-width="0.34">Group 1</text>
<text x="139.9" y="417.8" font-size="10.3" fill="#111" text-anchor="middle" dominant-baseline="central" font-weight="bold" stroke="#111" stroke-width="0.34">Group 2</text>
<text x="513.8" y="318.2" font-size="10.3" fill="#111" text-anchor="middle" dominant-baseline="central" font-weight="bold" transform="rotate(-55 513.8 318.2)" stroke="#111" stroke-width="0.34">Group 4</text>
<text x="445" y="395.5" font-size="10.3" fill="#111" text-anchor="middle" dominant-baseline="central" font-weight="bold" transform="rotate(-14 445 395.5)" stroke="#111" stroke-width="0.34">Group 5</text>
<text x="270" y="72.3" font-size="7.3" fill="#111" text-anchor="middle" dominant-baseline="central" font-weight="bold" transform="rotate(4 270 72.3)" stroke="#111" stroke-width="0.34">Group 3c</text>
<text x="302.7" y="72" font-size="7.3" fill="#111" text-anchor="middle" dominant-baseline="central" font-weight="bold" transform="rotate(-20 302.7 72)" stroke="#111" stroke-width="0.34">Group 3b</text>
<text x="337.6" y="55.3" font-size="7.3" fill="#111" text-anchor="middle" dominant-baseline="central" font-weight="bold" transform="rotate(2 337.6 55.3)" stroke="#111" stroke-width="0.34">Group 3a</text>
<text x="225" y="92" font-size="7.3" fill="#111" text-anchor="middle" dominant-baseline="central" font-weight="bold" transform="rotate(-50 225 92)" stroke="#111" stroke-width="0.34">Group 3d</text>
<text x="198.7" y="91.5" font-size="7.3" fill="#111" text-anchor="middle" dominant-baseline="central" font-weight="bold" transform="rotate(-43 198.7 91.5)" stroke="#111" stroke-width="0.34">Group 3e</text>
<text x="372.6" y="113.5" font-size="7.3" fill="#111" text-anchor="middle" dominant-baseline="central" font-weight="bold" transform="rotate(62 372.6 113.5)" stroke="#111" stroke-width="0.34">Group 6e</text>
<text x="408.8" y="129" font-size="7.3" fill="#111" text-anchor="middle" dominant-baseline="central" font-weight="bold" transform="rotate(18 408.8 129)" stroke="#111" stroke-width="0.34">Group 6c</text>
<text x="372.6" y="144.2" font-size="7.3" fill="#111" text-anchor="middle" dominant-baseline="central" font-weight="bold" transform="rotate(-25 372.6 144.2)" stroke="#111" stroke-width="0.34">Group 6d</text>
<text x="440.4" y="152" font-size="7.3" fill="#111" text-anchor="middle" dominant-baseline="central" font-weight="bold" transform="rotate(14 440.4 152)" stroke="#111" stroke-width="0.34">Group 6b</text>
<text x="465" y="177.3" font-size="7.3" fill="#111" text-anchor="middle" dominant-baseline="central" font-weight="bold" transform="rotate(14 465 177.3)" stroke="#111" stroke-width="0.34">Group 6a</text>
<text x="133.4" y="294" font-size="7.3" fill="#111" text-anchor="middle" dominant-baseline="central" font-weight="bold" transform="rotate(-90 133.4 294)" stroke="#111" stroke-width="0.34">Group 2b</text>
<text x="222.5" y="364" font-size="7.3" fill="#111" text-anchor="middle" dominant-baseline="central" font-weight="bold" stroke="#111" stroke-width="0.34">Group 2a</text>
<text x="494.8" y="297" font-size="7.3" fill="#111" text-anchor="middle" dominant-baseline="central" font-weight="bold" transform="rotate(-24 494.8 297)" stroke="#111" stroke-width="0.34">Group 4a</text>
<text x="483" y="321.5" font-size="7.3" fill="#111" text-anchor="middle" dominant-baseline="central" font-weight="bold" transform="rotate(-29 483 321.5)" stroke="#111" stroke-width="0.34">Group 4b</text>
<text x="122.3" y="121" font-size="14.9" fill="#111" text-anchor="start" dominant-baseline="central" font-weight="bold" stroke="#111" stroke-width="0.34">Group β</text>
<text x="98.5" y="157" font-size="14.9" fill="#111" text-anchor="start" dominant-baseline="central" font-weight="bold" stroke="#111" stroke-width="0.34">Group α</text>
<text x="473.5" y="245.2" font-size="14.9" fill="#111" text-anchor="start" dominant-baseline="central" font-weight="bold" stroke="#111" stroke-width="0.34">Group γ</text>
<text x="304.7" y="530.3" font-size="14.9" fill="#111" text-anchor="start" dominant-baseline="central" font-weight="bold" stroke="#111" stroke-width="0.34">Group δ</text>
<text x="87.2" y="323.3" font-size="8.6" fill="#9a7c50" text-anchor="middle" dominant-baseline="central" font-weight="bold" font-style="italic" transform="rotate(-20 87.2 323.3)" stroke="#9a7c50" stroke-width="0.34">Syn33</text>
<text x="111.5" y="319.6" font-size="8.6" fill="#9a7c50" text-anchor="middle" dominant-baseline="central" font-weight="bold" font-style="italic" transform="rotate(-22 111.5 319.6)" stroke="#9a7c50" stroke-width="0.34">P-SSM7</text>
<text x="123.9" y="325" font-size="8.6" fill="#9a7c50" text-anchor="middle" dominant-baseline="central" font-weight="bold" font-style="italic" transform="rotate(-40 123.9 325)" stroke="#9a7c50" stroke-width="0.34">Syn9</text>
<text x="136.1" y="325" font-size="8.6" fill="#9a7c50" text-anchor="middle" dominant-baseline="central" font-weight="bold" font-style="italic" transform="rotate(-35 136.1 325)" stroke="#9a7c50" stroke-width="0.34">S-SM1</text>
<text x="151.7" y="323.3" font-size="8.6" fill="#9a7c50" text-anchor="middle" dominant-baseline="central" font-weight="bold" font-style="italic" transform="rotate(-33 151.7 323.3)" stroke="#9a7c50" stroke-width="0.34">P-RSM4</text>
<text x="143.8" y="338.2" font-size="8.6" fill="#9a7c50" text-anchor="middle" dominant-baseline="central" font-weight="bold" font-style="italic" transform="rotate(-33 143.8 338.2)" stroke="#9a7c50" stroke-width="0.34">S-ShM2</text>
<text x="131.9" y="353.1" font-size="8.6" fill="#9a7c50" text-anchor="middle" dominant-baseline="central" font-weight="bold" font-style="italic" transform="rotate(-30 131.9 353.1)" stroke="#9a7c50" stroke-width="0.34">S-SSM5</text>
<text x="126.4" y="365.5" font-size="8.6" fill="#9a7c50" text-anchor="middle" dominant-baseline="central" font-weight="bold" font-style="italic" transform="rotate(-38 126.4 365.5)" stroke="#9a7c50" stroke-width="0.34">Syn19</text>
<text x="118.2" y="379.2" font-size="8.6" fill="#9a7c50" text-anchor="middle" dominant-baseline="central" font-weight="bold" font-style="italic" transform="rotate(-33 118.2 379.2)" stroke="#9a7c50" stroke-width="0.34">P-SSM4</text>
<text x="143.8" y="379.2" font-size="8.6" fill="#9a7c50" text-anchor="middle" dominant-baseline="central" font-weight="bold" font-style="italic" transform="rotate(-70 143.8 379.2)" stroke="#9a7c50" stroke-width="0.34">P-HM2</text>
<text x="155.5" y="368" font-size="8.6" fill="#9a7c50" text-anchor="middle" dominant-baseline="central" font-weight="bold" font-style="italic" transform="rotate(-70 155.5 368)" stroke="#9a7c50" stroke-width="0.34">P-HM1</text>
<text x="168.4" y="354.4" font-size="8.6" fill="#9a7c50" text-anchor="middle" dominant-baseline="central" font-weight="bold" font-style="italic" transform="rotate(-70 168.4 354.4)" stroke="#9a7c50" stroke-width="0.34">Syn1</text>
<text x="180.1" y="344.3" font-size="8.6" fill="#9a7c50" text-anchor="middle" dominant-baseline="central" font-weight="bold" font-style="italic" transform="rotate(-70 180.1 344.3)" stroke="#9a7c50" stroke-width="0.34">S-PM2</text>
<text x="181.5" y="363" font-size="8.6" fill="#9a7c50" text-anchor="middle" dominant-baseline="central" font-weight="bold" font-style="italic" transform="rotate(-74 181.5 363)" stroke="#9a7c50" stroke-width="0.34">S-RSM4</text>
<text x="185.7" y="379.2" font-size="8.6" fill="#9a7c50" text-anchor="middle" dominant-baseline="central" font-weight="bold" font-style="italic" transform="rotate(-70 185.7 379.2)" stroke="#9a7c50" stroke-width="0.34">S-SSM7</text>
<text x="199.2" y="349.8" font-size="8.6" fill="#9a7c50" text-anchor="middle" dominant-baseline="central" font-weight="bold" font-style="italic" transform="rotate(-84 199.2 349.8)" stroke="#9a7c50" stroke-width="0.34">S-SM2</text>
<text x="370.4" y="504.2" font-size="7.4" fill="#9a7c50" text-anchor="middle" dominant-baseline="central" font-weight="bold" font-style="italic" transform="rotate(79 370.4 504.2)" stroke="#9a7c50" stroke-width="0.34">Ma-LMM01</text>
<text x="491.4" y="270.9" font-size="8" fill="#48DA4C" text-anchor="middle" dominant-baseline="central" font-weight="bold" font-style="italic" transform="rotate(12 491.4 270.9)" stroke="#48DA4C" stroke-width="0.34">KVP40</text>
<text x="523" y="271" font-size="8" fill="#48DA4C" text-anchor="middle" dominant-baseline="central" font-weight="bold" font-style="italic" transform="rotate(12 523 271)" stroke="#48DA4C" stroke-width="0.34">SPO1</text>
<text x="459.8" y="330" font-size="7.4" fill="#48DA4C" text-anchor="middle" dominant-baseline="central" font-weight="bold" font-style="italic" transform="rotate(58 459.8 330)" stroke="#48DA4C" stroke-width="0.34">T5</text>
<text x="520.8" y="385.9" font-size="8.2" fill="#48DA4C" text-anchor="middle" dominant-baseline="central" font-weight="bold" font-style="italic" transform="rotate(40 520.8 385.9)" stroke="#48DA4C" stroke-width="0.34">PA11</text>
<text x="360.4" y="395" font-size="6.3" fill="#48DA4C" text-anchor="middle" dominant-baseline="central" font-weight="bold" font-style="italic" transform="rotate(79 360.4 395)" stroke="#48DA4C" stroke-width="0.34">phiM-14</text>
<text x="388.4" y="390.6" font-size="6.3" fill="#48DA4C" text-anchor="middle" dominant-baseline="central" font-weight="bold" font-style="italic" transform="rotate(76 388.4 390.6)" stroke="#48DA4C" stroke-width="0.34">RB16</text>
<text x="391.2" y="410.8" font-size="6.3" fill="#48DA4C" text-anchor="middle" dominant-baseline="central" font-weight="bold" font-style="italic" transform="rotate(76 391.2 410.8)" stroke="#48DA4C" stroke-width="0.34">KP15</text>
<text x="367.2" y="419.8" font-size="5.8" fill="#7A45A8" text-anchor="middle" dominant-baseline="central" font-weight="bold" font-style="italic" transform="rotate(82 367.2 419.8)" stroke="#7A45A8" stroke-width="0.34">MpV1</text>
<text x="370.2" y="437.6" font-size="5.8" fill="#7A45A8" text-anchor="middle" dominant-baseline="central" font-weight="bold" font-style="italic" transform="rotate(81 370.2 437.6)" stroke="#7A45A8" stroke-width="0.34">BpV2</text>
<text x="383.4" y="424.2" font-size="5.8" fill="#7A45A8" text-anchor="middle" dominant-baseline="central" font-weight="bold" font-style="italic" transform="rotate(71 383.4 424.2)" stroke="#7A45A8" stroke-width="0.34">OtV5</text>
<text x="380.7" y="439.7" font-size="5.8" fill="#7A45A8" text-anchor="middle" dominant-baseline="central" font-weight="bold" font-style="italic" transform="rotate(80 380.7 439.7)" stroke="#7A45A8" stroke-width="0.34">OtV2</text>
<text x="377.4" y="453.3" font-size="5.8" fill="#7A45A8" text-anchor="middle" dominant-baseline="central" font-weight="bold" font-style="italic" transform="rotate(78 377.4 453.3)" stroke="#7A45A8" stroke-width="0.34">OtV1</text>
<text x="369.6" y="457.4" font-size="6.3" fill="#48DA4C" text-anchor="middle" dominant-baseline="central" font-weight="bold" font-style="italic" transform="rotate(81 369.6 457.4)" stroke="#48DA4C" stroke-width="0.34">SIO1</text>
<text x="394.8" y="456" font-size="6.9" fill="#48DA4C" text-anchor="middle" dominant-baseline="central" font-weight="bold" font-style="italic" transform="rotate(74 394.8 456)" stroke="#48DA4C" stroke-width="0.34">phiShM-AG3</text>
<text x="388.3" y="461.5" font-size="6.3" fill="#48DA4C" text-anchor="middle" dominant-baseline="central" font-weight="bold" font-style="italic" transform="rotate(80 388.3 461.5)" stroke="#48DA4C" stroke-width="0.34">rv5 VI01</text>
<text x="383.3" y="478.2" font-size="6.3" fill="#48DA4C" text-anchor="middle" dominant-baseline="central" font-weight="bold" font-style="italic" transform="rotate(78 383.3 478.2)" stroke="#48DA4C" stroke-width="0.34">phiEco32</text>
<circle cx="427.8" cy="430.7" r="3.0" fill="#18A049" stroke="#0F6A2E" stroke-width="1.0"/>
<circle cx="427.8" cy="444.1" r="3.0" fill="#FF30D2" stroke="#8E1277" stroke-width="1.0"/>
<circle cx="427.8" cy="457" r="3.0" fill="#E8262B" stroke="#8F1414" stroke-width="1.0"/>
<circle cx="427.8" cy="468.7" r="3.0" fill="#14A4EC" stroke="#0F5C8C" stroke-width="1.0"/>
<circle cx="427.8" cy="483.2" r="3.0" fill="#E2B21C" stroke="#5E4300" stroke-width="1.0"/>
<circle cx="427.8" cy="494.4" r="3.0" fill="#FFF533" stroke="#8A7F00" stroke-width="1.0"/>
<text x="452.8" y="430.8" font-size="10.75" fill="#111" text-anchor="start" dominant-baseline="central" font-weight="bold" stroke="#111" stroke-width="0.34">Clones of sample Daan</text>
<text x="452.8" y="443.5" font-size="10.75" fill="#111" text-anchor="start" dominant-baseline="central" font-weight="bold" stroke="#111" stroke-width="0.34">Clones of sample Suihua</text>
<text x="452.8" y="456.4" font-size="10.75" fill="#111" text-anchor="start" dominant-baseline="central" font-weight="bold" stroke="#111" stroke-width="0.34">Clones of sample Mudanjiang</text>
<text x="452.8" y="469.1" font-size="10.75" fill="#111" text-anchor="start" dominant-baseline="central" font-weight="bold" stroke="#111" stroke-width="0.34">Clones of sample Yanjiagang</text>
<text x="452.8" y="481.8" font-size="10.75" fill="#111" text-anchor="start" dominant-baseline="central" font-weight="bold" stroke="#111" stroke-width="0.34">Marine clones (Goldsmith <tspan font-style="italic">et al</tspan>., 2011)</text>
<text x="452.8" y="494.4" font-size="10.75" fill="#111" text-anchor="start" dominant-baseline="central" font-weight="bold" stroke="#111" stroke-width="0.34"><tspan font-style="italic">Synechococcus</tspan> phage isolates from Gulf of Mexico (Goldsmith <tspan font-style="italic">et al</tspan>., 2011)</text>
<text x="452.8" y="509.3" font-size="10.75" fill="#111" text-anchor="start" dominant-baseline="central" font-weight="bold" stroke="#111" stroke-width="0.34">Cultured phage of autotrophic bacteria</text>
<text x="452.8" y="522.4" font-size="10.75" fill="#111" text-anchor="start" dominant-baseline="central" font-weight="bold" stroke="#111" stroke-width="0.34">Cultured phage of heterotrophic bacteria</text>
<text x="452.8" y="535.4" font-size="10.75" fill="#111" text-anchor="start" dominant-baseline="central" font-weight="bold" stroke="#111" stroke-width="0.34">Cultured virus of autotrophic eukaryotes</text>
<text x="414.4" y="509.5" font-size="10.9" fill="#9a7c50" text-anchor="start" dominant-baseline="central" font-weight="bold" font-style="italic" stroke="#9a7c50" stroke-width="0.34">Syn33</text>
<text x="414.4" y="522.4" font-size="10.5" fill="#48DA4C" text-anchor="start" dominant-baseline="central" font-weight="bold" font-style="italic" stroke="#48DA4C" stroke-width="0.34">RB16</text>
<text x="414.4" y="535.2" font-size="10.5" fill="#7A45A8" text-anchor="start" dominant-baseline="central" font-weight="bold" font-style="italic" stroke="#7A45A8" stroke-width="0.34">OtV5</text>
</g></svg></body></html>
